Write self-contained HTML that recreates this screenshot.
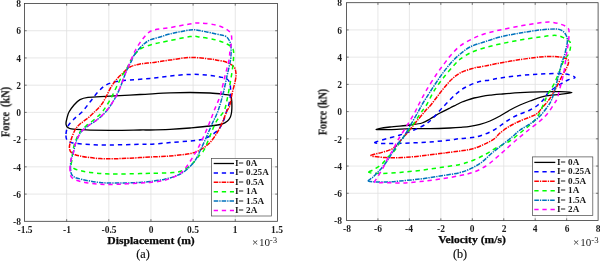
<!DOCTYPE html>
<html><head><meta charset="utf-8"><title>fig</title>
<style>
html,body{margin:0;padding:0;background:#fff;}
body{width:600px;height:262px;position:relative;overflow:hidden;font-family:"Liberation Serif",serif;color:#1c1c1c;}
.t{position:absolute;white-space:nowrap;line-height:1;will-change:transform;}

.tk{font-weight:bold;font-size:9.5px;}
.lb{font-weight:bold;font-size:10.3px;-webkit-text-stroke:0.2px #1c1c1c;}
.xl{font-weight:bold;font-size:10.2px;color:#0a0a0a;-webkit-text-stroke:0.25px #0a0a0a;}
.lg{font-weight:bold;font-size:8.5px;}
.cap{font-size:12.2px;color:#0a0a0a;-webkit-text-stroke:0.15px #0a0a0a;}
.ex{font-size:9.5px;transform-origin:0 50%;transform:scaleX(1.17);}
.ex sup{font-size:7.5px;vertical-align:baseline;position:relative;top:-3.3px;margin-left:-0.2px;}

</style></head><body>
<svg width="600" height="262" viewBox="0 0 600 262" style="position:absolute;left:0;top:0">
<rect x="24.50" y="3.50" width="252.90" height="217.80" fill="#fff"/>
<line x1="66.65" y1="3.50" x2="66.65" y2="221.30" stroke="#e1e1e1" stroke-width="0.8"/>
<line x1="108.80" y1="3.50" x2="108.80" y2="221.30" stroke="#e1e1e1" stroke-width="0.8"/>
<line x1="150.95" y1="3.50" x2="150.95" y2="221.30" stroke="#e1e1e1" stroke-width="0.8"/>
<line x1="193.10" y1="3.50" x2="193.10" y2="221.30" stroke="#e1e1e1" stroke-width="0.8"/>
<line x1="235.25" y1="3.50" x2="235.25" y2="221.30" stroke="#e1e1e1" stroke-width="0.8"/>
<line x1="24.50" y1="30.73" x2="277.40" y2="30.73" stroke="#e1e1e1" stroke-width="0.8"/>
<line x1="24.50" y1="57.95" x2="277.40" y2="57.95" stroke="#e1e1e1" stroke-width="0.8"/>
<line x1="24.50" y1="85.18" x2="277.40" y2="85.18" stroke="#e1e1e1" stroke-width="0.8"/>
<line x1="24.50" y1="112.40" x2="277.40" y2="112.40" stroke="#e1e1e1" stroke-width="0.8"/>
<line x1="24.50" y1="139.62" x2="277.40" y2="139.62" stroke="#e1e1e1" stroke-width="0.8"/>
<line x1="24.50" y1="166.85" x2="277.40" y2="166.85" stroke="#e1e1e1" stroke-width="0.8"/>
<line x1="24.50" y1="194.08" x2="277.40" y2="194.08" stroke="#e1e1e1" stroke-width="0.8"/>
<path d="M66.0 124.0C65.8 122.4 66.5 120.0 67.0 118.0C67.5 116.0 67.8 114.2 69.0 112.0C70.2 109.8 72.2 107.1 74.0 105.0C75.8 102.9 77.7 100.9 80.0 99.6C82.3 98.3 83.0 97.9 88.0 97.3C93.0 96.7 101.3 96.6 110.0 96.1C118.7 95.6 130.0 95.0 140.0 94.5C150.0 94.0 161.7 93.2 170.0 92.9C178.3 92.6 183.3 92.5 190.0 92.5C196.7 92.5 204.0 92.7 210.0 93.0C216.0 93.3 222.6 94.2 226.0 94.6C229.4 95.0 229.5 94.8 230.4 95.5C231.3 96.2 231.2 96.8 231.5 98.5C231.8 100.2 231.9 103.8 231.9 106.0C231.9 108.2 231.8 110.2 231.6 112.0C231.3 113.8 231.1 115.5 230.4 117.0C229.7 118.5 228.9 119.8 227.5 121.0C226.1 122.2 224.9 123.2 222.0 124.0C219.1 124.8 215.3 125.3 210.0 126.0C204.7 126.7 196.7 127.4 190.0 128.0C183.3 128.6 176.7 129.1 170.0 129.4C163.3 129.7 155.0 129.9 150.0 130.0C145.0 130.1 146.7 129.9 140.0 130.0C133.3 130.1 120.7 130.5 110.0 130.4C99.3 130.3 83.0 129.9 76.0 129.4C69.0 128.9 69.7 128.5 68.0 127.6C66.3 126.7 66.2 125.6 66.0 124.0Z" fill="none" stroke="#000000" stroke-width="1.3" stroke-linejoin="round"/>
<path d="M66.0 134.0C66.2 131.7 66.7 128.5 68.0 126.0C69.3 123.5 71.7 121.3 74.0 119.0C76.3 116.7 79.3 114.8 82.0 112.0C84.7 109.2 87.3 105.3 90.0 102.0C92.7 98.7 95.3 94.8 98.0 92.0C100.7 89.2 103.0 86.7 106.0 85.0C109.0 83.3 112.0 82.4 116.0 81.6C120.0 80.8 124.3 80.5 130.0 80.0C135.7 79.5 143.3 79.1 150.0 78.4C156.7 77.7 163.3 76.7 170.0 76.0C176.7 75.3 184.0 74.6 190.0 74.4C196.0 74.2 201.0 74.6 206.0 75.0C211.0 75.4 216.5 76.3 220.0 77.0C223.5 77.7 225.3 77.8 227.0 79.0C228.7 80.2 229.4 81.5 230.0 84.0C230.6 86.5 230.7 90.7 230.5 94.0C230.3 97.3 229.6 101.3 229.0 104.0C228.4 106.7 228.0 107.0 227.0 110.0C226.0 113.0 224.5 118.7 223.0 122.0C221.5 125.3 220.2 127.7 218.0 130.0C215.8 132.3 212.7 134.4 210.0 136.0C207.3 137.6 205.3 138.6 202.0 139.4C198.7 140.2 195.3 140.5 190.0 141.0C184.7 141.5 176.3 142.1 170.0 142.6C163.7 143.1 157.0 143.9 152.0 144.2C147.0 144.5 147.0 144.2 140.0 144.3C133.0 144.4 118.3 144.9 110.0 145.0C101.7 145.1 96.3 145.0 90.0 144.6C83.7 144.2 75.8 143.6 72.0 142.8C68.2 142.0 68.0 141.5 67.0 140.0C66.0 138.5 65.8 136.3 66.0 134.0Z" fill="none" stroke="#0000ff" stroke-width="1.5" stroke-linejoin="round" stroke-dasharray="4.3 3.8"/>
<path d="M69.4 148.0C69.2 145.8 70.1 143.0 71.0 140.0C71.9 137.0 73.5 132.7 75.0 130.0C76.5 127.3 77.8 126.0 80.0 124.0C82.2 122.0 85.4 120.2 88.0 118.0C90.6 115.8 93.2 113.2 95.5 111.0C97.8 108.8 99.8 106.8 101.5 104.5C103.2 102.2 104.5 99.8 106.0 97.0C107.5 94.2 108.8 90.8 110.5 88.0C112.2 85.2 113.8 82.7 116.0 80.0C118.2 77.3 121.7 74.2 124.0 72.0C126.3 69.8 127.3 68.3 130.0 67.0C132.7 65.7 136.0 64.8 140.0 64.0C144.0 63.2 149.0 63.1 154.0 62.4C159.0 61.7 164.0 60.8 170.0 60.0C176.0 59.2 183.3 57.6 190.0 57.4C196.7 57.2 205.7 58.6 210.0 59.0C214.3 59.4 213.3 59.5 216.0 60.0C218.7 60.5 223.0 60.8 226.0 62.0C229.0 63.2 232.3 65.0 234.0 67.0C235.7 69.0 235.8 71.5 236.0 74.0C236.2 76.5 235.7 78.7 235.0 82.0C234.3 85.3 232.9 90.0 232.0 94.0C231.1 98.0 230.4 103.2 229.6 106.0C228.8 108.8 228.1 108.3 226.9 111.0C225.7 113.7 224.1 118.5 222.5 122.0C220.9 125.5 219.6 128.6 217.5 132.0C215.4 135.4 212.9 139.5 210.0 142.5C207.1 145.5 203.3 148.2 200.0 150.0C196.7 151.8 195.0 152.6 190.0 153.6C185.0 154.6 176.7 155.4 170.0 156.0C163.3 156.6 155.0 156.7 150.0 157.0C145.0 157.3 145.0 157.3 140.0 157.6C135.0 157.9 126.7 158.4 120.0 158.6C113.3 158.8 106.7 159.0 100.0 158.6C93.3 158.2 84.7 156.9 80.0 156.0C75.3 155.1 73.8 154.3 72.0 153.0C70.2 151.7 69.6 150.2 69.4 148.0Z" fill="none" stroke="#ff0000" stroke-width="1.5" stroke-linejoin="round" stroke-dasharray="4.6 1.0 1.3 1.0"/>
<path d="M71.0 164.0C70.4 162.8 71.3 164.3 71.6 162.0C71.9 159.7 72.3 153.7 73.0 150.0C73.7 146.3 74.8 143.0 76.0 140.0C77.2 137.0 78.3 134.3 80.0 132.0C81.7 129.7 83.3 128.3 86.0 126.0C88.7 123.7 93.2 120.5 96.0 118.0C98.8 115.5 100.7 114.0 103.0 111.0C105.3 108.0 107.8 103.8 110.0 100.0C112.2 96.2 114.0 92.0 116.0 88.0C118.0 84.0 120.2 79.3 122.0 76.0C123.8 72.7 125.5 70.7 127.0 68.0C128.5 65.3 129.5 62.5 131.0 60.0C132.5 57.5 134.2 55.0 136.0 53.0C137.8 51.0 139.0 49.5 142.0 48.0C145.0 46.5 149.7 45.2 154.0 44.0C158.3 42.8 162.0 42.2 168.0 41.0C174.0 39.8 184.7 37.3 190.0 36.6C195.3 35.9 195.7 36.4 200.0 37.0C204.3 37.6 211.5 38.8 216.0 40.0C220.5 41.2 224.2 42.5 227.0 44.0C229.8 45.5 231.9 46.5 233.0 49.0C234.1 51.5 233.7 55.2 233.5 59.0C233.3 62.8 232.6 67.8 232.0 72.0C231.4 76.2 230.8 79.3 230.0 84.0C229.2 88.7 228.0 95.5 227.0 100.0C226.0 104.5 225.8 107.3 224.0 111.0C222.2 114.7 218.3 117.8 216.0 122.0C213.7 126.2 212.0 131.3 210.0 136.0C208.0 140.7 205.7 146.9 204.0 150.0C202.3 153.1 202.0 152.4 200.0 154.7C198.0 157.0 194.9 161.4 192.0 164.0C189.1 166.6 185.8 169.1 182.7 170.5C179.6 171.9 178.8 172.1 173.3 172.6C167.9 173.1 155.6 173.1 150.0 173.3C144.4 173.5 146.7 173.5 140.0 173.6C133.3 173.7 118.3 174.2 110.0 174.0C101.7 173.8 95.8 173.2 90.0 172.4C84.2 171.6 78.2 170.4 75.0 169.0C71.8 167.6 71.6 165.2 71.0 164.0Z" fill="none" stroke="#00ff00" stroke-width="1.5" stroke-linejoin="round" stroke-dasharray="4.3 3.8"/>
<path d="M70.6 170.0C70.3 167.3 70.6 162.7 71.0 160.0C71.4 157.3 72.2 157.0 73.0 154.0C73.8 151.0 74.7 145.7 76.0 142.0C77.3 138.3 79.0 134.7 81.0 132.0C83.0 129.3 85.2 128.2 88.0 126.0C90.8 123.8 94.9 121.5 98.0 119.0C101.1 116.5 103.8 114.2 106.5 111.0C109.2 107.8 111.8 103.8 114.0 100.0C116.2 96.2 118.0 92.7 120.0 88.0C122.0 83.3 124.0 76.7 126.0 72.0C128.0 67.3 130.8 62.5 132.0 60.0C133.2 57.5 132.0 58.7 133.0 57.0C134.0 55.3 136.2 52.2 138.0 50.0C139.8 47.8 142.0 45.7 144.0 44.0C146.0 42.3 147.3 41.2 150.0 40.0C152.7 38.8 156.7 38.0 160.0 37.0C163.3 36.0 165.0 35.2 170.0 34.0C175.0 32.8 185.0 30.6 190.0 30.0C195.0 29.4 195.7 29.9 200.0 30.6C204.3 31.3 211.8 33.1 216.0 34.0C220.2 34.9 222.8 35.0 225.0 36.0C227.2 37.0 228.0 38.2 229.0 40.0C230.0 41.8 230.8 43.7 231.0 47.0C231.2 50.3 231.2 55.2 230.5 60.0C229.8 64.8 228.2 70.3 227.0 76.0C225.8 81.7 224.5 88.2 223.0 94.0C221.5 99.8 219.8 106.0 218.0 111.0C216.2 116.0 214.0 119.5 212.0 124.0C210.0 128.5 208.0 133.5 206.0 138.0C204.0 142.5 201.9 147.1 200.0 151.0C198.1 154.9 196.8 158.4 194.3 161.7C191.8 165.0 188.1 168.6 185.0 171.0C181.9 173.4 179.2 174.6 175.7 176.0C172.2 177.4 168.3 178.5 164.0 179.4C159.7 180.3 154.0 181.0 150.0 181.5C146.0 182.0 145.0 182.1 140.0 182.4C135.0 182.7 126.7 183.1 120.0 183.1C113.3 183.1 106.3 183.1 100.0 182.5C93.7 181.9 86.5 180.5 82.0 179.4C77.5 178.3 74.9 177.8 73.0 176.2C71.1 174.6 70.9 172.7 70.6 170.0Z" fill="none" stroke="#0072bd" stroke-width="1.5" stroke-linejoin="round" stroke-dasharray="4.6 1.0 1.3 1.0"/>
<path d="M70.0 170.0C69.8 167.0 70.5 162.7 71.0 160.0C71.5 157.3 72.2 157.0 73.0 154.0C73.8 151.0 74.7 145.7 76.0 142.0C77.3 138.3 79.0 134.7 81.0 132.0C83.0 129.3 85.2 128.2 88.0 126.0C90.8 123.8 94.8 121.7 98.0 119.0C101.2 116.3 104.3 113.2 107.0 110.0C109.7 106.8 111.8 103.7 114.0 100.0C116.2 96.3 118.0 92.7 120.0 88.0C122.0 83.3 124.2 76.7 126.0 72.0C127.8 67.3 129.3 63.8 131.0 60.0C132.7 56.2 134.2 52.3 136.0 49.0C137.8 45.7 140.0 42.7 142.0 40.0C144.0 37.3 146.0 34.7 148.0 33.0C150.0 31.3 150.3 30.9 154.0 30.0C157.7 29.1 163.7 28.7 170.0 27.6C176.3 26.5 186.8 24.4 192.0 23.6C197.2 22.8 197.0 22.8 201.0 23.0C205.0 23.2 211.8 24.0 216.0 25.0C220.2 26.0 223.5 27.5 226.0 29.0C228.5 30.5 230.1 31.8 231.0 34.0C231.9 36.2 231.8 39.3 231.6 42.0C231.4 44.7 230.4 47.0 230.0 50.0C229.6 53.0 229.8 55.7 229.0 60.0C228.2 64.3 226.5 70.0 225.0 76.0C223.5 82.0 221.8 90.2 220.0 96.0C218.2 101.8 215.8 106.3 214.0 111.0C212.2 115.7 210.8 119.5 209.0 124.0C207.2 128.5 205.0 133.7 203.0 138.0C201.0 142.3 199.0 146.3 197.0 150.0C195.0 153.7 193.0 156.9 191.0 160.0C189.0 163.1 187.2 166.2 185.0 168.7C182.8 171.2 181.5 173.1 178.0 175.0C174.5 176.9 168.7 179.2 164.0 180.4C159.3 181.6 154.0 182.0 150.0 182.4C146.0 182.8 145.0 182.7 140.0 183.0C135.0 183.3 126.7 184.0 120.0 184.2C113.3 184.4 106.3 184.6 100.0 184.2C93.7 183.8 86.7 182.9 82.0 181.8C77.3 180.7 74.0 179.8 72.0 177.8C70.0 175.8 70.2 173.0 70.0 170.0Z" fill="none" stroke="#ff00ff" stroke-width="1.5" stroke-linejoin="round" stroke-dasharray="4.3 3.8"/>
<line x1="66.65" y1="221.30" x2="66.65" y2="219.10" stroke="#5a5a5a" stroke-width="0.8"/>
<line x1="66.65" y1="3.50" x2="66.65" y2="5.70" stroke="#5a5a5a" stroke-width="0.8"/>
<line x1="108.80" y1="221.30" x2="108.80" y2="219.10" stroke="#5a5a5a" stroke-width="0.8"/>
<line x1="108.80" y1="3.50" x2="108.80" y2="5.70" stroke="#5a5a5a" stroke-width="0.8"/>
<line x1="150.95" y1="221.30" x2="150.95" y2="219.10" stroke="#5a5a5a" stroke-width="0.8"/>
<line x1="150.95" y1="3.50" x2="150.95" y2="5.70" stroke="#5a5a5a" stroke-width="0.8"/>
<line x1="193.10" y1="221.30" x2="193.10" y2="219.10" stroke="#5a5a5a" stroke-width="0.8"/>
<line x1="193.10" y1="3.50" x2="193.10" y2="5.70" stroke="#5a5a5a" stroke-width="0.8"/>
<line x1="235.25" y1="221.30" x2="235.25" y2="219.10" stroke="#5a5a5a" stroke-width="0.8"/>
<line x1="235.25" y1="3.50" x2="235.25" y2="5.70" stroke="#5a5a5a" stroke-width="0.8"/>
<line x1="24.50" y1="30.73" x2="26.70" y2="30.73" stroke="#5a5a5a" stroke-width="0.8"/>
<line x1="277.40" y1="30.73" x2="275.20" y2="30.73" stroke="#5a5a5a" stroke-width="0.8"/>
<line x1="24.50" y1="57.95" x2="26.70" y2="57.95" stroke="#5a5a5a" stroke-width="0.8"/>
<line x1="277.40" y1="57.95" x2="275.20" y2="57.95" stroke="#5a5a5a" stroke-width="0.8"/>
<line x1="24.50" y1="85.18" x2="26.70" y2="85.18" stroke="#5a5a5a" stroke-width="0.8"/>
<line x1="277.40" y1="85.18" x2="275.20" y2="85.18" stroke="#5a5a5a" stroke-width="0.8"/>
<line x1="24.50" y1="112.40" x2="26.70" y2="112.40" stroke="#5a5a5a" stroke-width="0.8"/>
<line x1="277.40" y1="112.40" x2="275.20" y2="112.40" stroke="#5a5a5a" stroke-width="0.8"/>
<line x1="24.50" y1="139.62" x2="26.70" y2="139.62" stroke="#5a5a5a" stroke-width="0.8"/>
<line x1="277.40" y1="139.62" x2="275.20" y2="139.62" stroke="#5a5a5a" stroke-width="0.8"/>
<line x1="24.50" y1="166.85" x2="26.70" y2="166.85" stroke="#5a5a5a" stroke-width="0.8"/>
<line x1="277.40" y1="166.85" x2="275.20" y2="166.85" stroke="#5a5a5a" stroke-width="0.8"/>
<line x1="24.50" y1="194.08" x2="26.70" y2="194.08" stroke="#5a5a5a" stroke-width="0.8"/>
<line x1="277.40" y1="194.08" x2="275.20" y2="194.08" stroke="#5a5a5a" stroke-width="0.8"/>
<rect x="24.50" y="3.50" width="252.90" height="217.80" fill="none" stroke="#383838" stroke-width="0.8"/>
<rect x="211.40" y="158.50" width="60.10" height="57.50" fill="#fff" stroke="#484848" stroke-width="0.7"/>
<line x1="213.70" y1="163.50" x2="234.00" y2="163.50" fill="none" stroke="#000000" stroke-width="1.3" stroke-linejoin="round"/>
<line x1="213.70" y1="172.88" x2="234.00" y2="172.88" fill="none" stroke="#0000ff" stroke-width="1.5" stroke-linejoin="round" stroke-dasharray="4.3 3.8"/>
<line x1="213.70" y1="182.26" x2="234.00" y2="182.26" fill="none" stroke="#ff0000" stroke-width="1.5" stroke-linejoin="round" stroke-dasharray="4.6 1.0 1.3 1.0"/>
<line x1="213.70" y1="191.64" x2="234.00" y2="191.64" fill="none" stroke="#00ff00" stroke-width="1.5" stroke-linejoin="round" stroke-dasharray="4.3 3.8"/>
<line x1="213.70" y1="201.02" x2="234.00" y2="201.02" fill="none" stroke="#0072bd" stroke-width="1.5" stroke-linejoin="round" stroke-dasharray="4.6 1.0 1.3 1.0"/>
<line x1="213.70" y1="210.40" x2="234.00" y2="210.40" fill="none" stroke="#ff00ff" stroke-width="1.5" stroke-linejoin="round" stroke-dasharray="4.3 3.8"/>
<rect x="346.50" y="2.70" width="251.60" height="217.80" fill="#fff"/>
<line x1="377.95" y1="2.70" x2="377.95" y2="220.50" stroke="#e1e1e1" stroke-width="0.8"/>
<line x1="409.40" y1="2.70" x2="409.40" y2="220.50" stroke="#e1e1e1" stroke-width="0.8"/>
<line x1="440.85" y1="2.70" x2="440.85" y2="220.50" stroke="#e1e1e1" stroke-width="0.8"/>
<line x1="472.30" y1="2.70" x2="472.30" y2="220.50" stroke="#e1e1e1" stroke-width="0.8"/>
<line x1="503.75" y1="2.70" x2="503.75" y2="220.50" stroke="#e1e1e1" stroke-width="0.8"/>
<line x1="535.20" y1="2.70" x2="535.20" y2="220.50" stroke="#e1e1e1" stroke-width="0.8"/>
<line x1="566.65" y1="2.70" x2="566.65" y2="220.50" stroke="#e1e1e1" stroke-width="0.8"/>
<line x1="346.50" y1="29.93" x2="598.10" y2="29.93" stroke="#e1e1e1" stroke-width="0.8"/>
<line x1="346.50" y1="57.15" x2="598.10" y2="57.15" stroke="#e1e1e1" stroke-width="0.8"/>
<line x1="346.50" y1="84.38" x2="598.10" y2="84.38" stroke="#e1e1e1" stroke-width="0.8"/>
<line x1="346.50" y1="111.60" x2="598.10" y2="111.60" stroke="#e1e1e1" stroke-width="0.8"/>
<line x1="346.50" y1="138.82" x2="598.10" y2="138.82" stroke="#e1e1e1" stroke-width="0.8"/>
<line x1="346.50" y1="166.05" x2="598.10" y2="166.05" stroke="#e1e1e1" stroke-width="0.8"/>
<line x1="346.50" y1="193.28" x2="598.10" y2="193.28" stroke="#e1e1e1" stroke-width="0.8"/>
<path d="M376.0 129.4C376.0 129.0 384.3 127.7 390.0 127.0C395.7 126.3 404.7 125.7 410.0 125.0C415.3 124.3 418.7 124.0 422.0 123.0C425.3 122.0 427.0 120.7 430.0 119.0C433.0 117.3 436.7 114.8 440.0 113.0C443.3 111.2 447.3 109.3 450.0 108.0C452.7 106.7 454.0 106.0 456.0 105.0C458.0 104.0 460.0 102.9 462.0 102.0C464.0 101.1 466.0 100.5 468.0 99.8C470.0 99.1 471.7 98.6 474.0 98.0C476.3 97.4 479.3 96.8 482.0 96.3C484.7 95.8 487.0 95.5 490.0 95.2C493.0 94.9 495.0 94.6 500.0 94.2C505.0 93.8 513.3 93.1 520.0 92.7C526.7 92.3 533.3 92.0 540.0 91.8C546.7 91.6 554.7 91.5 560.0 91.6C565.3 91.7 572.0 92.1 572.0 92.6C572.0 93.1 564.7 93.8 560.0 94.4C555.3 95.0 549.0 95.3 544.0 96.4C539.0 97.5 534.0 99.6 530.0 101.0C526.0 102.4 523.3 103.5 520.0 105.0C516.7 106.5 513.3 108.2 510.0 110.0C506.7 111.8 503.3 114.2 500.0 116.0C496.7 117.8 493.3 119.6 490.0 121.0C486.7 122.4 483.3 123.5 480.0 124.4C476.7 125.3 473.3 125.9 470.0 126.4C466.7 126.9 463.3 127.1 460.0 127.4C456.7 127.7 455.0 127.8 450.0 128.0C445.0 128.2 436.7 128.5 430.0 128.6C423.3 128.7 416.7 128.4 410.0 128.6C403.3 128.8 395.7 129.5 390.0 129.6C384.3 129.7 376.0 129.8 376.0 129.4Z" fill="none" stroke="#000000" stroke-width="1.3" stroke-linejoin="round"/>
<path d="M375.0 142.8C373.7 142.2 377.8 141.3 382.0 140.0C386.2 138.7 394.7 136.7 400.0 135.0C405.3 133.3 409.7 131.8 414.0 130.0C418.3 128.2 422.7 126.2 426.0 124.0C429.3 121.8 431.3 119.7 434.0 117.0C436.7 114.3 440.2 110.0 442.0 108.0C443.8 106.0 442.7 107.3 445.0 105.0C447.3 102.7 452.5 97.0 456.0 94.0C459.5 91.0 462.3 89.0 466.0 87.0C469.7 85.0 474.0 83.2 478.0 82.0C482.0 80.8 486.3 80.7 490.0 80.0C493.7 79.3 495.0 78.7 500.0 78.0C505.0 77.3 513.3 76.3 520.0 75.6C526.7 74.9 533.3 74.3 540.0 74.0C546.7 73.7 555.0 73.4 560.0 73.6C565.0 73.8 567.5 74.3 570.0 75.0C572.5 75.7 575.3 76.8 575.0 77.6C574.7 78.4 570.5 78.8 568.0 80.0C565.5 81.2 563.2 82.5 560.0 84.5C556.8 86.5 551.7 89.6 549.0 92.0C546.3 94.4 545.8 96.8 544.0 99.0C542.2 101.2 540.3 103.2 538.0 105.0C535.7 106.8 533.0 108.5 530.0 110.0C527.0 111.5 523.3 112.5 520.0 114.0C516.7 115.5 513.3 117.0 510.0 119.0C506.7 121.0 503.3 123.8 500.0 126.0C496.7 128.2 494.0 130.2 490.0 132.0C486.0 133.8 481.0 135.9 476.0 137.0C471.0 138.1 464.3 138.1 460.0 138.6C455.7 139.1 455.0 139.4 450.0 140.0C445.0 140.6 436.7 141.5 430.0 142.0C423.3 142.5 416.7 142.7 410.0 143.0C403.3 143.3 395.8 143.6 390.0 143.6C384.2 143.6 376.3 143.4 375.0 142.8Z" fill="none" stroke="#0000ff" stroke-width="1.5" stroke-linejoin="round" stroke-dasharray="4.3 3.8"/>
<path d="M371.0 155.6C370.3 154.7 378.5 153.5 382.0 152.4C385.5 151.3 389.3 150.4 392.0 149.0C394.7 147.6 396.5 145.5 398.0 144.0C399.5 142.5 399.3 142.0 401.0 140.0C402.7 138.0 405.5 135.0 408.0 132.0C410.5 129.0 413.0 125.7 416.0 122.0C419.0 118.3 423.7 112.7 426.0 110.0C428.3 107.3 427.7 108.8 430.0 106.0C432.3 103.2 436.7 97.2 440.0 93.0C443.3 88.8 446.7 84.3 450.0 81.0C453.3 77.7 456.0 75.2 460.0 73.0C464.0 70.8 470.7 69.0 474.0 68.0C477.3 67.0 477.3 67.5 480.0 67.0C482.7 66.5 486.7 65.7 490.0 65.0C493.3 64.3 495.0 63.9 500.0 63.0C505.0 62.1 513.3 60.6 520.0 59.6C526.7 58.6 535.0 57.5 540.0 57.0C545.0 56.5 546.7 56.4 550.0 56.4C553.3 56.4 557.2 56.6 560.0 57.0C562.8 57.4 565.6 58.2 567.0 59.0C568.4 59.8 568.6 60.7 568.6 62.0C568.6 63.3 568.1 64.7 567.0 67.0C565.9 69.3 563.8 72.5 562.0 76.0C560.2 79.5 557.7 84.8 556.0 88.0C554.3 91.2 553.3 92.8 552.0 95.0C550.7 97.2 549.7 98.8 548.0 101.0C546.3 103.2 543.8 105.9 542.0 108.0C540.2 110.1 539.0 112.1 537.0 113.6C535.0 115.1 532.8 115.8 530.0 117.0C527.2 118.2 523.3 119.5 520.0 121.0C516.7 122.5 513.3 124.0 510.0 126.0C506.7 128.0 502.7 130.8 500.0 133.0C497.3 135.2 496.7 137.1 494.0 139.0C491.3 140.9 487.7 142.7 484.0 144.4C480.3 146.1 476.0 147.9 472.0 149.0C468.0 150.1 464.0 150.4 460.0 151.0C456.0 151.6 451.3 152.1 448.0 152.5C444.7 152.9 444.7 153.0 440.0 153.6C435.3 154.2 426.3 155.3 420.0 156.0C413.7 156.7 407.7 157.3 402.0 157.6C396.3 157.9 391.2 157.9 386.0 157.6C380.8 157.3 371.7 156.5 371.0 155.6Z" fill="none" stroke="#ff0000" stroke-width="1.5" stroke-linejoin="round" stroke-dasharray="4.6 1.0 1.3 1.0"/>
<path d="M369.0 172.4C367.8 171.7 372.3 170.6 374.5 169.2C376.7 167.8 379.8 166.0 382.0 164.0C384.2 162.0 385.8 159.3 388.0 157.0C390.2 154.7 392.7 153.0 395.0 150.0C397.3 147.0 399.2 143.0 402.0 139.0C404.8 135.0 409.0 130.2 412.0 126.0C415.0 121.8 417.6 117.5 420.0 114.0C422.4 110.5 424.2 108.8 426.5 105.0C428.8 101.2 431.1 95.7 434.0 91.0C436.9 86.3 440.3 81.7 444.0 77.0C447.7 72.3 453.5 65.8 456.0 63.0C458.5 60.2 456.7 61.7 459.0 60.0C461.3 58.3 465.8 55.0 470.0 53.0C474.2 51.0 479.0 49.5 484.0 48.0C489.0 46.5 494.0 45.3 500.0 44.0C506.0 42.7 513.3 41.2 520.0 40.0C526.7 38.8 534.0 37.8 540.0 37.0C546.0 36.2 552.0 35.2 556.0 35.4C560.0 35.6 561.7 36.9 564.0 38.0C566.3 39.1 568.9 40.3 570.0 42.0C571.1 43.7 570.7 45.8 570.4 48.0C570.1 50.2 569.1 53.0 568.0 55.0C566.9 57.0 565.3 57.5 564.0 60.0C562.7 62.5 561.7 66.0 560.0 70.0C558.3 74.0 556.0 80.0 554.0 84.0C552.0 88.0 549.7 90.8 548.0 94.0C546.3 97.2 545.7 99.3 544.0 103.0C542.3 106.7 540.3 112.3 538.0 116.0C535.7 119.7 533.0 122.2 530.0 125.0C527.0 127.8 523.5 130.2 520.0 133.0C516.5 135.8 513.0 139.0 509.0 141.5C505.0 144.0 499.8 145.9 496.0 148.0C492.2 150.1 489.7 152.0 486.0 154.0C482.3 156.0 478.3 158.3 474.0 160.0C469.7 161.7 465.7 163.1 460.0 164.4C454.3 165.7 446.7 166.6 440.0 167.6C433.3 168.6 426.7 169.6 420.0 170.4C413.3 171.2 406.3 171.9 400.0 172.4C393.7 172.9 387.2 173.4 382.0 173.4C376.8 173.4 370.2 173.1 369.0 172.4Z" fill="none" stroke="#00ff00" stroke-width="1.5" stroke-linejoin="round" stroke-dasharray="4.3 3.8"/>
<path d="M368.9 181.2C366.7 180.4 370.8 179.3 372.6 177.4C374.5 175.5 377.6 172.7 380.0 170.0C382.4 167.3 384.7 164.3 387.0 161.0C389.3 157.7 391.8 153.3 394.0 150.0C396.2 146.7 398.5 143.0 400.0 141.0C401.5 139.0 401.3 140.5 403.0 138.0C404.7 135.5 407.5 130.3 410.0 126.0C412.5 121.7 415.8 115.8 418.0 112.0C420.2 108.2 421.0 106.3 423.0 103.0C425.0 99.7 427.2 96.3 430.0 92.0C432.8 87.7 436.7 81.7 440.0 77.0C443.3 72.3 446.8 67.7 450.0 64.0C453.2 60.3 455.7 57.8 459.0 55.0C462.3 52.2 465.8 49.2 470.0 47.0C474.2 44.8 479.0 43.7 484.0 42.0C489.0 40.3 494.0 38.5 500.0 37.0C506.0 35.5 513.3 34.2 520.0 33.0C526.7 31.8 534.0 30.7 540.0 30.0C546.0 29.3 552.3 28.9 556.0 29.0C559.7 29.1 560.3 29.6 562.0 30.6C563.7 31.6 565.1 33.3 566.0 35.0C566.9 36.7 567.4 38.7 567.4 41.0C567.4 43.3 566.6 46.3 566.0 49.0C565.4 51.7 564.7 54.8 564.0 57.0C563.3 59.2 562.8 59.2 562.0 62.0C561.2 64.8 560.2 69.5 559.0 74.0C557.8 78.5 556.2 84.7 555.0 89.0C553.8 93.3 552.7 97.2 551.5 100.0C550.3 102.8 549.9 103.3 548.0 106.0C546.1 108.7 543.0 113.0 540.0 116.0C537.0 119.0 533.3 121.7 530.0 124.0C526.7 126.3 523.0 127.8 520.0 130.0C517.0 132.2 515.0 134.5 512.0 137.0C509.0 139.5 505.3 142.3 502.0 145.0C498.7 147.7 495.3 150.2 492.0 153.0C488.7 155.8 485.3 159.5 482.0 162.0C478.7 164.5 475.7 166.2 472.0 168.0C468.3 169.8 465.3 171.3 460.0 172.6C454.7 173.9 446.7 174.9 440.0 176.0C433.3 177.1 426.7 178.2 420.0 179.0C413.3 179.8 405.7 180.5 400.0 181.0C394.3 181.5 391.2 182.0 386.0 182.0C380.8 182.0 371.1 182.0 368.9 181.2Z" fill="none" stroke="#0072bd" stroke-width="1.5" stroke-linejoin="round" stroke-dasharray="4.6 1.0 1.3 1.0"/>
<path d="M375.0 182.3C373.5 181.5 375.7 180.4 377.0 178.0C378.3 175.6 381.0 171.7 383.0 168.0C385.0 164.3 387.3 159.0 389.0 156.0C390.7 153.0 391.5 152.7 393.0 150.0C394.5 147.3 395.5 144.3 398.0 140.0C400.5 135.7 405.2 128.7 408.0 124.0C410.8 119.3 413.2 115.3 415.0 112.0C416.8 108.7 417.2 107.5 419.0 104.0C420.8 100.5 423.2 95.8 426.0 91.0C428.8 86.2 433.0 79.5 436.0 75.0C439.0 70.5 441.5 67.3 444.0 64.0C446.5 60.7 448.3 58.0 451.0 55.0C453.7 52.0 456.5 48.7 460.0 46.0C463.5 43.3 468.0 41.0 472.0 39.0C476.0 37.0 479.3 35.5 484.0 34.0C488.7 32.5 494.0 31.3 500.0 30.0C506.0 28.7 514.0 27.1 520.0 26.0C526.0 24.9 531.2 24.1 536.0 23.4C540.8 22.7 545.0 21.9 549.0 22.0C553.0 22.1 556.8 23.0 560.0 24.0C563.2 25.0 566.5 26.2 568.0 28.0C569.5 29.8 569.0 32.2 569.0 35.0C569.0 37.8 568.5 41.3 568.0 45.0C567.5 48.7 566.7 52.5 566.0 57.0C565.3 61.5 565.0 66.8 564.0 72.0C563.0 77.2 561.2 83.5 560.0 88.0C558.8 92.5 558.0 96.3 557.0 99.0C556.0 101.7 555.5 101.7 554.0 104.0C552.5 106.3 550.3 110.2 548.0 113.0C545.7 115.8 543.7 117.8 540.0 121.0C536.3 124.2 530.3 128.5 526.0 132.0C521.7 135.5 517.7 138.8 514.0 142.0C510.3 145.2 507.0 148.3 504.0 151.0C501.0 153.7 499.0 155.5 496.0 158.0C493.0 160.5 489.7 163.7 486.0 166.0C482.3 168.3 478.3 170.4 474.0 172.0C469.7 173.6 465.7 174.4 460.0 175.6C454.3 176.8 446.7 178.0 440.0 179.0C433.3 180.0 426.3 180.9 420.0 181.6C413.7 182.3 407.7 182.8 402.0 183.0C396.3 183.2 390.5 182.7 386.0 182.6C381.5 182.5 376.5 183.1 375.0 182.3Z" fill="none" stroke="#ff00ff" stroke-width="1.5" stroke-linejoin="round" stroke-dasharray="4.3 3.8"/>
<line x1="377.95" y1="220.50" x2="377.95" y2="218.30" stroke="#5a5a5a" stroke-width="0.8"/>
<line x1="377.95" y1="2.70" x2="377.95" y2="4.90" stroke="#5a5a5a" stroke-width="0.8"/>
<line x1="409.40" y1="220.50" x2="409.40" y2="218.30" stroke="#5a5a5a" stroke-width="0.8"/>
<line x1="409.40" y1="2.70" x2="409.40" y2="4.90" stroke="#5a5a5a" stroke-width="0.8"/>
<line x1="440.85" y1="220.50" x2="440.85" y2="218.30" stroke="#5a5a5a" stroke-width="0.8"/>
<line x1="440.85" y1="2.70" x2="440.85" y2="4.90" stroke="#5a5a5a" stroke-width="0.8"/>
<line x1="472.30" y1="220.50" x2="472.30" y2="218.30" stroke="#5a5a5a" stroke-width="0.8"/>
<line x1="472.30" y1="2.70" x2="472.30" y2="4.90" stroke="#5a5a5a" stroke-width="0.8"/>
<line x1="503.75" y1="220.50" x2="503.75" y2="218.30" stroke="#5a5a5a" stroke-width="0.8"/>
<line x1="503.75" y1="2.70" x2="503.75" y2="4.90" stroke="#5a5a5a" stroke-width="0.8"/>
<line x1="535.20" y1="220.50" x2="535.20" y2="218.30" stroke="#5a5a5a" stroke-width="0.8"/>
<line x1="535.20" y1="2.70" x2="535.20" y2="4.90" stroke="#5a5a5a" stroke-width="0.8"/>
<line x1="566.65" y1="220.50" x2="566.65" y2="218.30" stroke="#5a5a5a" stroke-width="0.8"/>
<line x1="566.65" y1="2.70" x2="566.65" y2="4.90" stroke="#5a5a5a" stroke-width="0.8"/>
<line x1="346.50" y1="29.93" x2="348.70" y2="29.93" stroke="#5a5a5a" stroke-width="0.8"/>
<line x1="598.10" y1="29.93" x2="595.90" y2="29.93" stroke="#5a5a5a" stroke-width="0.8"/>
<line x1="346.50" y1="57.15" x2="348.70" y2="57.15" stroke="#5a5a5a" stroke-width="0.8"/>
<line x1="598.10" y1="57.15" x2="595.90" y2="57.15" stroke="#5a5a5a" stroke-width="0.8"/>
<line x1="346.50" y1="84.38" x2="348.70" y2="84.38" stroke="#5a5a5a" stroke-width="0.8"/>
<line x1="598.10" y1="84.38" x2="595.90" y2="84.38" stroke="#5a5a5a" stroke-width="0.8"/>
<line x1="346.50" y1="111.60" x2="348.70" y2="111.60" stroke="#5a5a5a" stroke-width="0.8"/>
<line x1="598.10" y1="111.60" x2="595.90" y2="111.60" stroke="#5a5a5a" stroke-width="0.8"/>
<line x1="346.50" y1="138.82" x2="348.70" y2="138.82" stroke="#5a5a5a" stroke-width="0.8"/>
<line x1="598.10" y1="138.82" x2="595.90" y2="138.82" stroke="#5a5a5a" stroke-width="0.8"/>
<line x1="346.50" y1="166.05" x2="348.70" y2="166.05" stroke="#5a5a5a" stroke-width="0.8"/>
<line x1="598.10" y1="166.05" x2="595.90" y2="166.05" stroke="#5a5a5a" stroke-width="0.8"/>
<line x1="346.50" y1="193.28" x2="348.70" y2="193.28" stroke="#5a5a5a" stroke-width="0.8"/>
<line x1="598.10" y1="193.28" x2="595.90" y2="193.28" stroke="#5a5a5a" stroke-width="0.8"/>
<rect x="346.50" y="2.70" width="251.60" height="217.80" fill="none" stroke="#383838" stroke-width="0.8"/>
<rect x="532.40" y="156.90" width="60.40" height="58.50" fill="#fff" stroke="#484848" stroke-width="0.7"/>
<line x1="534.30" y1="162.40" x2="555.30" y2="162.40" fill="none" stroke="#000000" stroke-width="1.3" stroke-linejoin="round"/>
<line x1="534.30" y1="171.84" x2="555.30" y2="171.84" fill="none" stroke="#0000ff" stroke-width="1.5" stroke-linejoin="round" stroke-dasharray="4.3 3.8"/>
<line x1="534.30" y1="181.28" x2="555.30" y2="181.28" fill="none" stroke="#ff0000" stroke-width="1.5" stroke-linejoin="round" stroke-dasharray="4.6 1.0 1.3 1.0"/>
<line x1="534.30" y1="190.72" x2="555.30" y2="190.72" fill="none" stroke="#00ff00" stroke-width="1.5" stroke-linejoin="round" stroke-dasharray="4.3 3.8"/>
<line x1="534.30" y1="200.16" x2="555.30" y2="200.16" fill="none" stroke="#0072bd" stroke-width="1.5" stroke-linejoin="round" stroke-dasharray="4.6 1.0 1.3 1.0"/>
<line x1="534.30" y1="209.60" x2="555.30" y2="209.60" fill="none" stroke="#ff00ff" stroke-width="1.5" stroke-linejoin="round" stroke-dasharray="4.3 3.8"/>
</svg>
<div class="t tk" style="left:24.50px;transform:translateX(-50%);top:225.50px;">-1.5</div>
<div class="t tk" style="left:66.65px;transform:translateX(-50%);top:225.50px;">-1</div>
<div class="t tk" style="left:108.80px;transform:translateX(-50%);top:225.50px;">-0.5</div>
<div class="t tk" style="left:150.95px;transform:translateX(-50%);top:225.50px;">0</div>
<div class="t tk" style="left:193.10px;transform:translateX(-50%);top:225.50px;">0.5</div>
<div class="t tk" style="left:235.25px;transform:translateX(-50%);top:225.50px;">1</div>
<div class="t tk" style="left:277.40px;transform:translateX(-50%);top:225.50px;">1.5</div>
<div class="t tk" style="left:20.50px;transform:translateX(-100%);top:0.20px;">8</div>
<div class="t tk" style="left:20.50px;transform:translateX(-100%);top:27.43px;">6</div>
<div class="t tk" style="left:20.50px;transform:translateX(-100%);top:54.65px;">4</div>
<div class="t tk" style="left:20.50px;transform:translateX(-100%);top:81.88px;">2</div>
<div class="t tk" style="left:20.50px;transform:translateX(-100%);top:109.10px;">0</div>
<div class="t tk" style="left:20.50px;transform:translateX(-100%);top:136.32px;">-2</div>
<div class="t tk" style="left:20.50px;transform:translateX(-100%);top:163.55px;">-4</div>
<div class="t tk" style="left:20.50px;transform:translateX(-100%);top:190.78px;">-6</div>
<div class="t tk" style="left:20.50px;transform:translateX(-100%);top:218.00px;">-8</div>
<div class="t tk" style="left:346.50px;transform:translateX(-50%);top:225.40px;">-8</div>
<div class="t tk" style="left:377.95px;transform:translateX(-50%);top:225.40px;">-6</div>
<div class="t tk" style="left:409.40px;transform:translateX(-50%);top:225.40px;">-4</div>
<div class="t tk" style="left:440.85px;transform:translateX(-50%);top:225.40px;">-2</div>
<div class="t tk" style="left:472.30px;transform:translateX(-50%);top:225.40px;">0</div>
<div class="t tk" style="left:503.75px;transform:translateX(-50%);top:225.40px;">2</div>
<div class="t tk" style="left:535.20px;transform:translateX(-50%);top:225.40px;">4</div>
<div class="t tk" style="left:566.65px;transform:translateX(-50%);top:225.40px;">6</div>
<div class="t tk" style="left:598.10px;transform:translateX(-50%);top:225.40px;">8</div>
<div class="t tk" style="left:341.80px;transform:translateX(-100%);top:-0.60px;">8</div>
<div class="t tk" style="left:341.80px;transform:translateX(-100%);top:26.62px;">6</div>
<div class="t tk" style="left:341.80px;transform:translateX(-100%);top:53.85px;">4</div>
<div class="t tk" style="left:341.80px;transform:translateX(-100%);top:81.08px;">2</div>
<div class="t tk" style="left:341.80px;transform:translateX(-100%);top:108.30px;">0</div>
<div class="t tk" style="left:341.80px;transform:translateX(-100%);top:135.52px;">-2</div>
<div class="t tk" style="left:341.80px;transform:translateX(-100%);top:162.75px;">-4</div>
<div class="t tk" style="left:341.80px;transform:translateX(-100%);top:189.97px;">-6</div>
<div class="t tk" style="left:341.80px;transform:translateX(-100%);top:217.20px;">-8</div>
<div class="t xl" style="left:150.8px;top:235.5px;transform:translateX(-50%) scaleX(1.14);">Displacement (m)</div>
<div class="t xl" style="left:472.0px;top:235.3px;transform:translateX(-50%) scaleX(1.14);">Velocity (m/s)</div>
<div class="t cap" style="left:142.60px;transform:translateX(-50%);top:247.90px;">(a)</div>
<div class="t cap" style="left:460.00px;transform:translateX(-50%);top:247.90px;">(b)</div>
<div class="t ex" style="left:252.20px;top:239.30px;"><span style="margin-right:0.6px">&times;</span>10<sup>-3</sup></div>
<div class="t ex" style="left:572.90px;top:239.30px;"><span style="margin-right:0.9px">&times;</span>10<sup>-3</sup></div>
<div class="t lb" style="left:5.8px;top:111.7px;transform:translate(-50%,-50%) rotate(-90deg) scaleY(1.25);">Force&nbsp; (kN)</div>
<div class="t lb" style="left:323.2px;top:112.3px;font-size:10px;transform:translate(-50%,-50%) rotate(-90deg) scaleY(1.25);">Force (kN)</div>
<div class="t lg" style="left:235.30px;top:159.10px;transform-origin:0 50%;transform:scaleX(1.08);">I= 0A</div>
<div class="t lg" style="left:556.80px;top:158.00px;transform-origin:0 50%;transform:scaleX(1.08);">I= 0A</div>
<div class="t lg" style="left:235.30px;top:168.48px;transform-origin:0 50%;transform:scaleX(1.08);">I= 0.25A</div>
<div class="t lg" style="left:556.80px;top:167.44px;transform-origin:0 50%;transform:scaleX(1.08);">I= 0.25A</div>
<div class="t lg" style="left:235.30px;top:177.86px;transform-origin:0 50%;transform:scaleX(1.08);">I= 0.5A</div>
<div class="t lg" style="left:556.80px;top:176.88px;transform-origin:0 50%;transform:scaleX(1.08);">I= 0.5A</div>
<div class="t lg" style="left:235.30px;top:187.24px;transform-origin:0 50%;transform:scaleX(1.08);">I= 1A</div>
<div class="t lg" style="left:556.80px;top:186.32px;transform-origin:0 50%;transform:scaleX(1.08);">I= 1A</div>
<div class="t lg" style="left:235.30px;top:196.62px;transform-origin:0 50%;transform:scaleX(1.08);">I= 1.5A</div>
<div class="t lg" style="left:556.80px;top:195.76px;transform-origin:0 50%;transform:scaleX(1.08);">I= 1.5A</div>
<div class="t lg" style="left:235.30px;top:206.00px;transform-origin:0 50%;transform:scaleX(1.08);">I= 2A</div>
<div class="t lg" style="left:556.80px;top:205.20px;transform-origin:0 50%;transform:scaleX(1.08);">I= 2A</div>
</body></html>
